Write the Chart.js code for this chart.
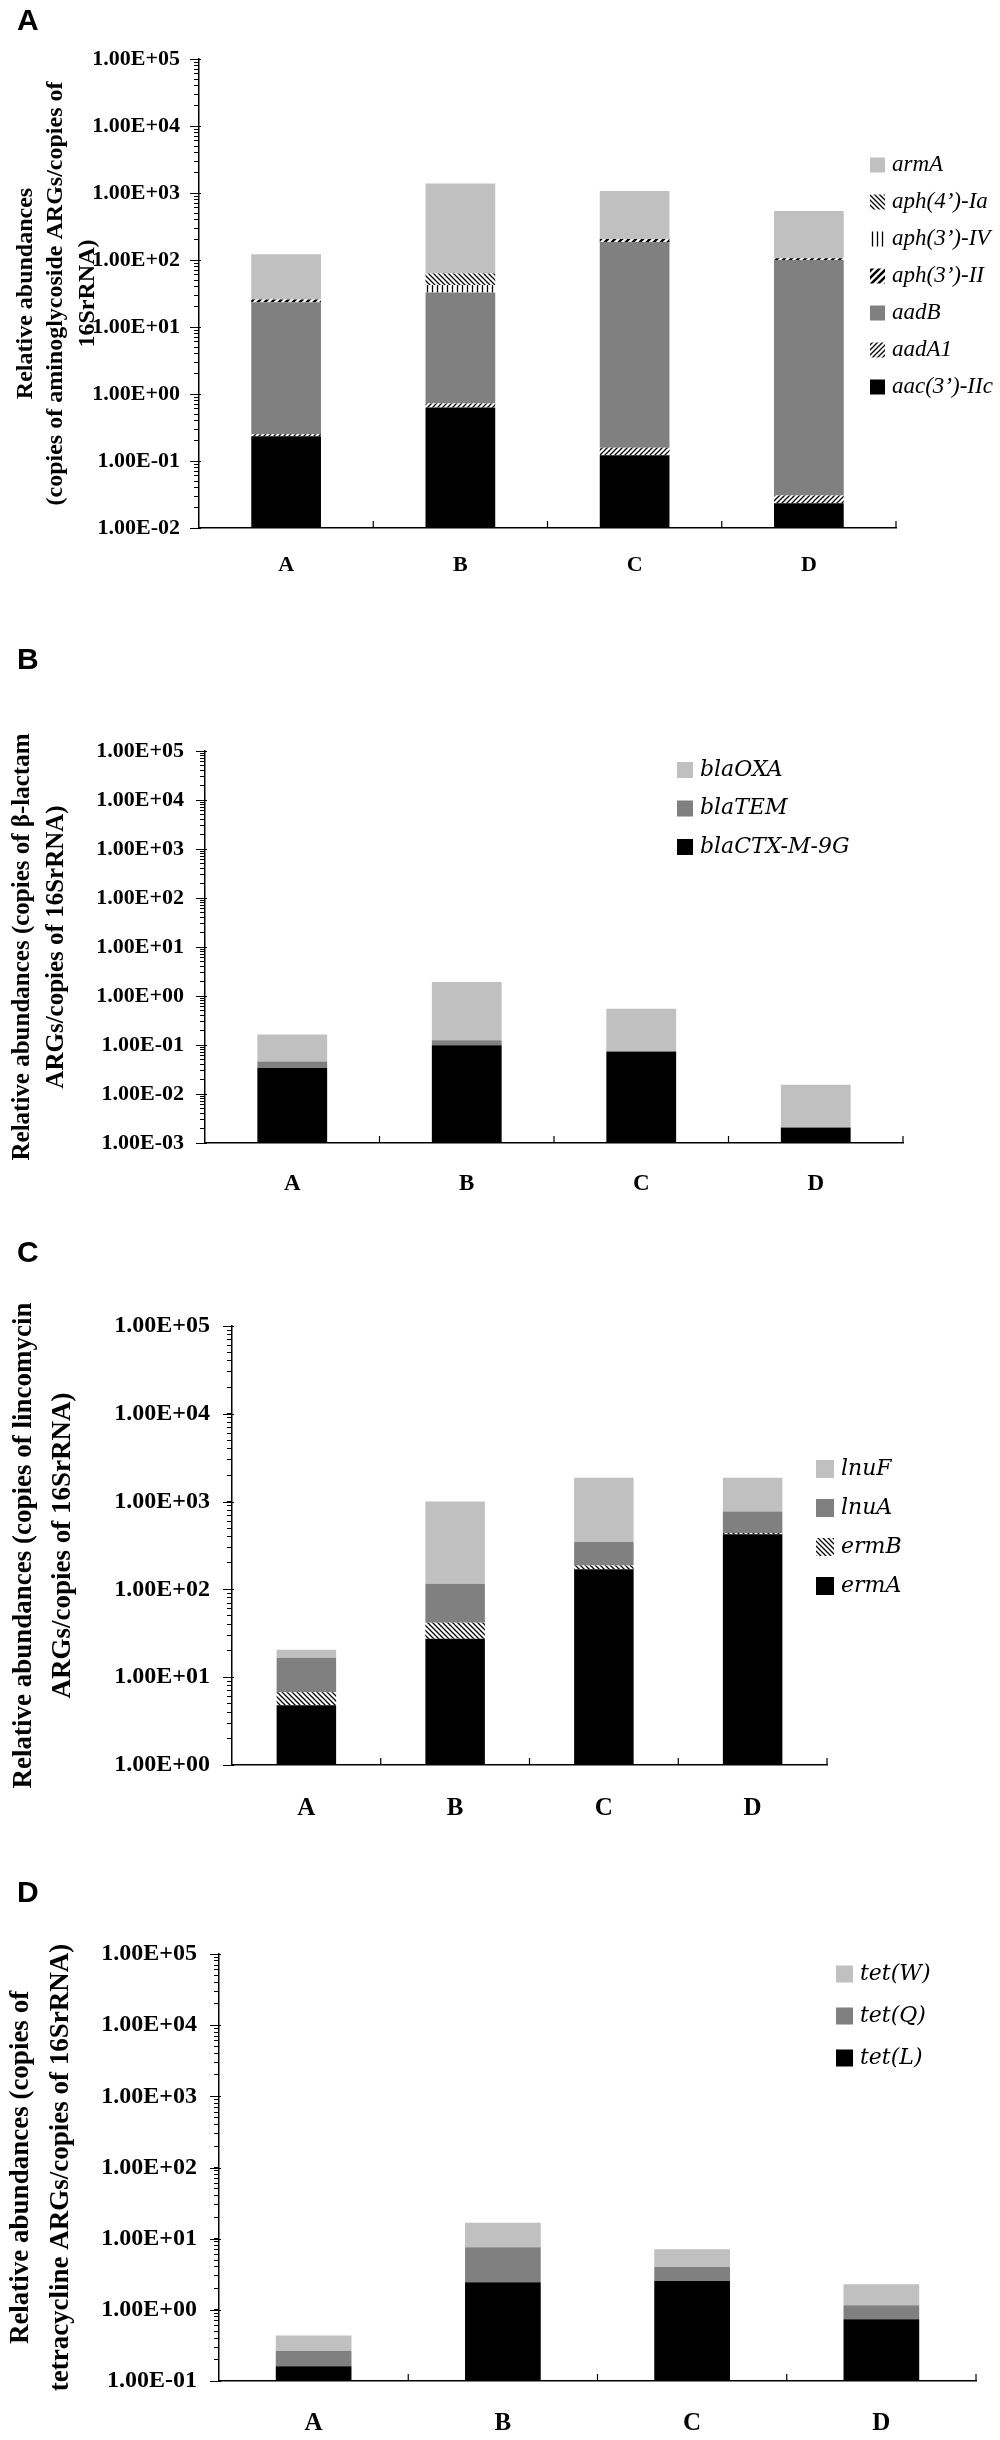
<!DOCTYPE html>
<html>
<head>
<meta charset="utf-8">
<script src="https://cdn.jsdelivr.net/npm/chart.js@4.4.1/dist/chart.umd.min.js"></script>
<style>
  body { margin: 0; background: #fff; }
  #wrap { position: relative; width: 1000px; height: 2440px; }
  canvas { position: absolute; left: 0; }
</style>
</head>
<body>
<div id="wrap">
  <canvas id="chartA" width="1000" height="600" style="top:0px"></canvas>
  <canvas id="chartB" width="1000" height="600" style="top:600px"></canvas>
  <canvas id="chartC" width="1000" height="640" style="top:1200px"></canvas>
  <canvas id="chartD" width="1000" height="600" style="top:1840px"></canvas>
</div>
<script>
let sites = ['A', 'B', 'C', 'D'];

// A: aminoglycoside ARGs, stacked segments bottom -> top
let aacIIc = [0.235, 0.631, 0.122, 0.0235];
let aadA1 = [0.016, 0.089, 0.036, 0.0071];
let aadB = [23.25, 32.0, 185.8, 99.97];
let aph3II = [2.3, null, 20, 6];
let aph3IV = [null, 9.8, null, null];
let aph4Ia = [null, 20.6, null, null];
let armA = [96.2, 1327, 863, 433];
let ticksA = ['1.00E-02', '1.00E-01', '1.00E+00', '1.00E+01', '1.00E+02', '1.00E+03', '1.00E+04', '1.00E+05'];

// B: beta-lactam ARGs
let blaCTX = [0.034, 0.0986, 0.0727, 0.00205];
let blaTEM = [0.0122, 0.0259, 0.0025, 0.00008];
let blaOXA = [0.117, 1.80, 0.471, 0.0133];
let ticksB = ['1.00E-03', '1.00E-02', '1.00E-01', '1.00E+00', '1.00E+01', '1.00E+02', '1.00E+03', '1.00E+04', '1.00E+05'];

// C: lincomycin ARGs
let ermA = [4.8, 27.5, 169.6, 423.5];
let ermB = [1.95, 14.1, 18, 16.5];
let lnuA = [9.95, 74.2, 158.4, 333];
let lnuF = [3.9, 888, 1526, 1099];
let ticksC = ['1.00E+00', '1.00E+01', '1.00E+02', '1.00E+03', '1.00E+04', '1.00E+05'];

// D: tetracycline ARGs
let tetL = [0.161, 2.45, 2.55, 0.74];
let tetQ = [0.102, 5.12, 1.45, 0.42];
let tetW = [0.172, 9.13, 3.08, 1.13];
let ticksD = ['1.00E-01', '1.00E+00', '1.00E+01', '1.00E+02', '1.00E+03', '1.00E+04', '1.00E+05'];

const SERIF = "'Liberation Serif', 'Times New Roman', serif";
const LIGHT = '#c0c0c0', MID = '#808080', BLACK = '#000000';

function hatch(kind) {
  const s = kind === 'thick' ? 7 : 5;
  const c = document.createElement('canvas');
  c.width = s; c.height = s;
  const g = c.getContext('2d');
  g.fillStyle = '#fff';
  g.fillRect(0, 0, s, s);
  g.strokeStyle = '#000';
  g.lineWidth = kind === 'thick' ? 2.6 : 1.3;
  g.beginPath();
  if (kind === 'vert') {
    g.moveTo(s / 2, 0); g.lineTo(s / 2, s);
  } else if (kind === 'back') {
    g.moveTo(0, 0); g.lineTo(s, s);
    g.moveTo(-1, s - 1); g.lineTo(1, s + 1);
    g.moveTo(s - 1, -1); g.lineTo(s + 1, 1);
  } else {
    g.moveTo(0, s); g.lineTo(s, 0);
    g.moveTo(-1, 1); g.lineTo(1, -1);
    g.moveTo(s - 1, s + 1); g.lineTo(s + 1, s - 1);
  }
  g.stroke();
  return g.createPattern(c, 'repeat');
}

// legend drawn inside the plot, top item = last dataset
const boxLegend = {
  id: 'boxLegend',
  afterDraw(chart, args, o) {
    const ctx = chart.ctx;
    const ds = chart.data.datasets.slice().reverse();
    ctx.save();
    ctx.font = o.font;
    ctx.textBaseline = 'middle';
    ds.forEach((d, i) => {
      const cy = o.y + i * o.gap;
      ctx.fillStyle = d.backgroundColor;
      ctx.fillRect(o.x, cy - o.box / 2, o.box, o.box);
      ctx.fillStyle = '#000';
      ctx.fillText(d.label, o.x + o.box + 7, cy);
    });
    ctx.restore();
  }
};

// panel letter, rotated y title, longer decade ticks, inner ticks on the x axis
const panelDecor = {
  id: 'panelDecor',
  afterDraw(chart, args, o) {
    const ctx = chart.ctx;
    const area = chart.chartArea;
    const xs = chart.scales.x;
    const ys = chart.scales.y;
    ctx.save();
    ctx.fillStyle = '#000';
    ctx.font = "bold 30px 'Liberation Sans', Arial, sans-serif";
    ctx.textBaseline = 'alphabetic';
    ctx.fillText(o.letter, 17, o.letterY);

    ctx.font = 'bold ' + o.titleSize + 'px ' + SERIF;
    ctx.textAlign = 'center';
    ctx.textBaseline = 'middle';
    const cy = (area.top + area.bottom) / 2;
    o.title.forEach((line, i) => {
      ctx.save();
      ctx.translate(o.titleX[i], cy);
      ctx.rotate(-Math.PI / 2);
      ctx.fillText(line, 0, 0);
      ctx.restore();
    });

    ctx.strokeStyle = '#000';
    ctx.lineWidth = 1.2;
    ctx.beginPath();
    for (let i = 1; i < sites.length; i++) {
      const px = (xs.getPixelForValue(i - 1) + xs.getPixelForValue(i)) / 2;
      ctx.moveTo(px, area.bottom); ctx.lineTo(px, area.bottom - 7);
    }
    ctx.moveTo(area.right, area.bottom); ctx.lineTo(area.right, area.bottom - 7);
    o.decades.forEach(v => {
      const py = Math.round(ys.getPixelForValue(v)) + 0.5;
      ctx.moveTo(area.left - 9, py); ctx.lineTo(area.left + 2, py);
    });
    ctx.stroke();
    ctx.restore();
  }
};

function minorTicks(labels) {
  const out = [];
  for (let i = 0; i < labels.length - 1; i++) {
    const lo = Number(labels[i]);
    for (let k = 1; k <= 9; k++) out.push(k * lo);
  }
  out.push(Number(labels[labels.length - 1]));
  return out;
}

function makeChart(id, datasets, tickLabels, p) {
  const ctx = document.getElementById(id).getContext('2d');
  const tickValues = minorTicks(tickLabels);
  p.decor.decades = tickLabels.map(Number);
  return new Chart(ctx, {
    type: 'bar',
    data: { labels: sites, datasets: datasets },
    options: {
      responsive: false,
      animation: false,
      layout: { padding: { top: p.top, right: 1000 - p.right, left: 0, bottom: 0 } },
      datasets: { bar: { barPercentage: 0.4, categoryPercentage: 1, borderWidth: 0 } },
      plugins: {
        legend: { display: false },
        tooltip: { enabled: false },
        boxLegend: p.legend,
        panelDecor: p.decor
      },
      scales: {
        x: {
          stacked: true,
          grid: { display: false },
          border: { display: true, color: '#000', width: 1.5 },
          ticks: { color: '#000', padding: p.xPad, font: { family: SERIF, size: p.xSize, weight: 'bold' } },
          afterFit: s => { s.height = p.height - p.bottom; }
        },
        y: {
          type: 'logarithmic',
          stacked: true,
          min: Number(tickLabels[0]),
          max: Number(tickLabels[tickLabels.length - 1]),
          border: { display: true, color: '#000', width: 1.5 },
          grid: { drawOnChartArea: false, color: '#000', tickLength: 5 },
          ticks: {
            autoSkip: false,
            color: '#000',
            padding: p.yPad,
            font: { family: SERIF, size: p.ySize, weight: 'bold' },
            callback: v => {
              const t = tickLabels.find(l => Math.abs(Number(l) - v) < v * 1e-9);
              return t || '';
            }
          },
          afterBuildTicks: s => { s.ticks = tickValues.map(v => ({ value: v })); },
          afterFit: s => { s.width = p.left; }
        }
      }
    },
    plugins: [boxLegend, panelDecor]
  });
}

function createGraphA() {
  const ds = [
    { label: 'aac(3’)-IIc', data: aacIIc, backgroundColor: BLACK },
    { label: 'aadA1', data: aadA1, backgroundColor: hatch('slash') },
    { label: 'aadB', data: aadB, backgroundColor: MID },
    { label: 'aph(3’)-II', data: aph3II, backgroundColor: hatch('thick') },
    { label: 'aph(3’)-IV', data: aph3IV, backgroundColor: hatch('vert') },
    { label: 'aph(4’)-Ia', data: aph4Ia, backgroundColor: hatch('back') },
    { label: 'armA', data: armA, backgroundColor: LIGHT }
  ];
  makeChart('chartA', ds, ticksA, {
    height: 600, top: 59, bottom: 528, left: 199, right: 896,
    xPad: 16, xSize: 22, yPad: 14, ySize: 22,
    legend: { x: 870, y: 165, gap: 37, box: 15, font: 'italic 23px ' + SERIF },
    decor: {
      letter: 'A', letterY: 30, titleSize: 24,
      title: ['Relative abundances', '(copies of aminoglycoside ARGs/copies of', '16SrRNA)'],
      titleX: [26, 56, 88]
    }
  });
}

function createGraphB() {
  const ds = [
    { label: 'blaCTX-M-9G', data: blaCTX, backgroundColor: BLACK },
    { label: 'blaTEM', data: blaTEM, backgroundColor: MID },
    { label: 'blaOXA', data: blaOXA, backgroundColor: LIGHT }
  ];
  makeChart('chartB', ds, ticksB, {
    height: 600, top: 151, bottom: 543, left: 205, right: 903,
    xPad: 19, xSize: 23, yPad: 16, ySize: 22,
    legend: { x: 677, y: 170, gap: 38.5, box: 16, font: "italic 22px 'DejaVu Serif', serif" },
    decor: {
      letter: 'B', letterY: 69, titleSize: 25,
      title: ['Relative abundances (copies of β-lactam', 'ARGs/copies of 16SrRNA)'],
      titleX: [23, 57]
    }
  });
}

function createGraphC() {
  const ds = [
    { label: 'ermA', data: ermA, backgroundColor: BLACK },
    { label: 'ermB', data: ermB, backgroundColor: hatch('back') },
    { label: 'lnuA', data: lnuA, backgroundColor: MID },
    { label: 'lnuF', data: lnuF, backgroundColor: LIGHT }
  ];
  makeChart('chartC', ds, ticksC, {
    height: 640, top: 126, bottom: 565, left: 232, right: 827,
    xPad: 21, xSize: 25, yPad: 17, ySize: 24,
    legend: { x: 816, y: 269, gap: 39, box: 18, font: "italic 22px 'DejaVu Serif', serif" },
    decor: {
      letter: 'C', letterY: 62, titleSize: 27,
      title: ['Relative abundances (copies of lincomycin', 'ARGs/copies of 16SrRNA)'],
      titleX: [24, 63]
    }
  });
}

function createGraphD() {
  const ds = [
    { label: 'tet(L)', data: tetL, backgroundColor: BLACK },
    { label: 'tet(Q)', data: tetQ, backgroundColor: MID },
    { label: 'tet(W)', data: tetW, backgroundColor: LIGHT }
  ];
  makeChart('chartD', ds, ticksD, {
    height: 600, top: 114, bottom: 541, left: 219, right: 976,
    xPad: 20, xSize: 25, yPad: 17, ySize: 24,
    legend: { x: 836, y: 134, gap: 42, box: 17, font: "italic 22px 'DejaVu Serif', serif" },
    decor: {
      letter: 'D', letterY: 62, titleSize: 27,
      title: ['Relative abundances (copies of', 'tetracycline ARGs/copies of 16SrRNA)'],
      titleX: [21, 61]
    }
  });
}

createGraphA();
createGraphB();
createGraphC();
createGraphD();
</script>
</body>
</html>
